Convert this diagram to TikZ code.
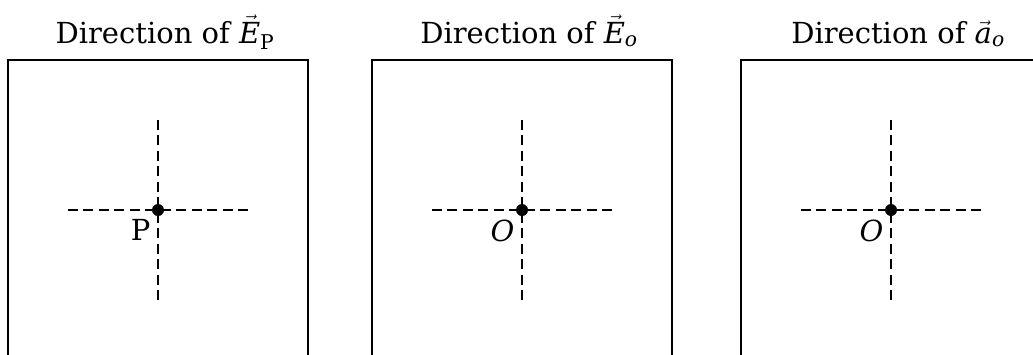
\documentclass[tikz,border=0pt]{standalone}
\usepackage{amsmath}
\usepackage{mathspec}
\setmainfont{DejaVu Serif}
\setmathsfont(Digits,Latin){DejaVu Serif}
\usetikzlibrary{positioning}

\tikzset{
  panel/.style={draw, line width=1.9pt},
  axis/.style={draw, line width=1.7pt, dash pattern=on 10pt off 5.45pt},
  origin/.style={circle, fill, inner sep=0pt, minimum size=12pt},
  caption/.style={font=\fontsize{29}{33}\selectfont, anchor=base, inner sep=0pt},
  ptlabel/.style={font=\fontsize{29}{33}\selectfont, inner sep=1pt},
}

\begin{document}
\begin{tikzpicture}[x=1pt, y=-1pt]
  \useasboundingbox (0,0) rectangle (1033,354);
  \clip (0,0) rectangle (1033,354);
  % --- three panels: box, caption, dashed axes, origin point ---
  \foreach \cx/\ttl/\lbl/\nm in {158/{$\vec{E}_{\text{P}}$}/P/a,
                                  522/{$\vec{E}_o$}/{$O$}/b,
                                  891/{$\vec{a}_o$}/{$O$}/c} {
    \draw[panel] (\cx-150,380) -- (\cx-150,60) -- (\cx+150,60) -- (\cx+150,380);
    \node[caption] (title-\nm) at (\cx+7,43) {Direction of \ttl};
    \coordinate (\nm-left)  at (\cx-90,210);
    \coordinate (\nm-right) at (\cx+90,210);
    \coordinate (\nm-top)   at (\cx,120);
    \coordinate (\nm-bot)   at (\cx,300);
    \draw[axis] (\nm-left) -- (\nm-right);
    \draw[axis] (\nm-top) -- (\nm-bot);
    \node[origin] (dot-\nm) at (\cx,210) {};
    \node[ptlabel, below left=4pt and 2pt of dot-\nm] (lbl-\nm) {\lbl};
  }
\end{tikzpicture}
\end{document}
